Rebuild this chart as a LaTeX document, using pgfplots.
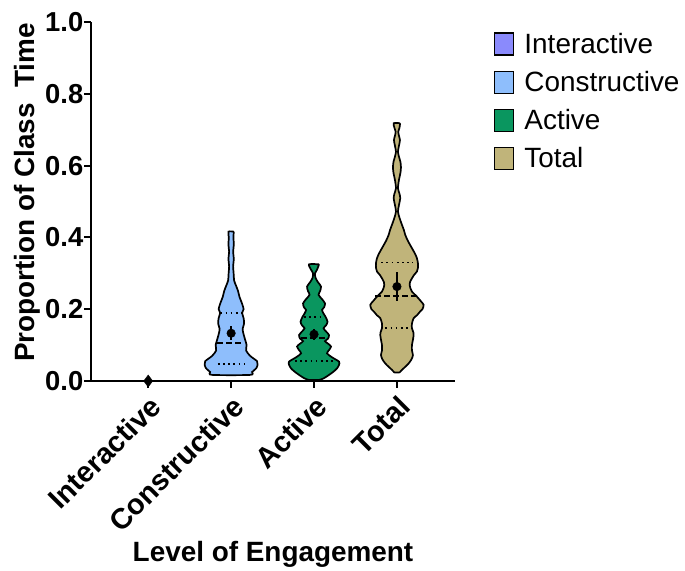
\documentclass[border=0pt]{standalone}
\usepackage{pgfplots}
\pgfplotsset{compat=1.18}
\usepackage{fontspec}
\setmainfont{Liberation Sans}
\definecolor{cInter}{RGB}{138,138,252}
\definecolor{cCons}{RGB}{142,190,252}
\definecolor{cAct}{RGB}{10,150,95}
\definecolor{cTot}{RGB}{192,180,122}
\begin{document}
\begin{tikzpicture}
\begin{axis}[
  scale only axis, width=364bp, height=359bp,
  xmin=-0.69, xmax=3.70, ymin=0, ymax=1,
  axis x line*=bottom, axis y line*=left,
  axis line style={line width=2.2bp, -},
  clip=false,
  xtick={0,1,2,3},
  xticklabels={Interactive,Constructive,Active,Total},
  ytick={0,0.2,0.4,0.6,0.8,1.0},
  yticklabel style={/pgf/number format/fixed, /pgf/number format/fixed zerofill, /pgf/number format/precision=1, /pgf/number format/assume math mode=true, inner sep=0.5bp},
  tick align=outside, major tick length=7bp,
  tick style={line width=2bp, black},
  ticklabel style={font=\fontsize{27.5}{31}\selectfont\bfseries},
  x tick label style={rotate=45, anchor=north east, inner sep=4bp, font=\fontsize{29}{33}\selectfont\bfseries},
  xlabel={Level of Engagement},
  ylabel={Proportion of Class\ \ Time},
  label style={font=\fontsize{28}{32}\selectfont\bfseries},
  ylabel style={at={(axis description cs:0,0.525)}, anchor=center, yshift=64bp},
  xlabel style={yshift=2bp},
  legend style={at={(rel axis cs:1,1)}, anchor=north west, xshift=36bp, yshift=-7bp,
    draw=none, fill=none, font=\fontsize{28}{32}\selectfont, row sep=12.5bp,
    /tikz/every odd column/.append style={column sep=8bp}},
  legend cell align=left,
  legend image code/.code={\draw[#1, line width=1.3bp] (0bp,-11bp) rectangle (19bp,11bp);},
]
\addlegendimage{fill=cInter, draw=black}
\addlegendentry{Interactive}
\addlegendimage{fill=cCons, draw=black}
\addlegendentry{Constructive}
\addlegendimage{fill=cAct, draw=black}
\addlegendentry{Active}
\addlegendimage{fill=cTot, draw=black}
\addlegendentry{Total}

% Constructive violin (h = half width in px, 83 px per category)
\addplot[forget plot, fill=cCons, draw=black, line width=1.7bp, smooth, tension=0.45]
 table[x expr=1+\thisrow{h}/83, y=v] {
h v
2.7 0.416
2.3 0.40
2.7 0.38
2.0 0.36
2.7 0.34
2.0 0.32
2.5 0.30
3.0 0.28
5 0.265
7 0.25
8.3 0.235
11 0.215
12.5 0.20
11 0.19
12.5 0.175
13 0.16
11.5 0.145
12.5 0.13
14 0.115
15.5 0.10
15 0.085
19 0.07
26 0.055
26.5 0.045
25 0.035
21 0.025
19 0.017
-19 0.017
-21 0.025
-25 0.035
-26.5 0.045
-26 0.055
-19 0.07
-15 0.085
-15.5 0.10
-14 0.115
-12.5 0.13
-11.5 0.145
-13 0.16
-12.5 0.175
-11 0.19
-12.5 0.20
-11 0.215
-8.3 0.235
-7 0.25
-5 0.265
-3.0 0.28
-2.5 0.30
-2.0 0.32
-2.7 0.34
-2.0 0.36
-2.7 0.38
-2.3 0.40
-2.7 0.416
2.7 0.416
};

% Active violin
\addplot[forget plot, fill=cAct, draw=black, line width=1.7bp, smooth, tension=0.45]
 table[x expr=2+\thisrow{h}/83, y=v] {
h v
5 0.325
3 0.31
1 0.30
1.5 0.287
4 0.275
7 0.263
6 0.25
4.5 0.24
8 0.228
11 0.216
10 0.205
8 0.198
9.5 0.188
11.5 0.179
13.5 0.165
12 0.155
9.5 0.147
12 0.138
15 0.128
14 0.118
11 0.111
14 0.104
17 0.096
15 0.086
13 0.077
18 0.066
25 0.054
25 0.045
23 0.035
19 0.025
15 0.017
10 0.008
5 0.003
-5 0.003
-10 0.008
-15 0.017
-19 0.025
-23 0.035
-25 0.045
-25 0.054
-18 0.066
-13 0.077
-15 0.086
-17 0.096
-14 0.104
-11 0.111
-14 0.118
-15 0.128
-12 0.138
-9.5 0.147
-12 0.155
-13.5 0.165
-11.5 0.179
-9.5 0.188
-8 0.198
-10 0.205
-11 0.216
-8 0.228
-4.5 0.24
-6 0.25
-7 0.263
-4 0.275
-1.5 0.287
-1 0.30
-3 0.31
-5 0.325
5 0.325
};

% Total violin
\addplot[forget plot, fill=cTot, draw=black, line width=1.7bp, smooth, tension=0.45]
 table[x expr=3+\thisrow{h}/83, y=v] {
h v
3.2 0.718
2.5 0.705
1.3 0.694
2 0.683
3 0.671
2 0.655
1 0.639
2 0.625
3.5 0.610
4 0.595
3.5 0.58
2 0.56
1 0.537
2.5 0.522
3.3 0.509
2 0.49
1 0.472
2.5 0.455
5 0.435
7 0.42
8.3 0.407
11 0.39
15 0.37
18 0.355
20 0.342
21 0.328
21 0.315
20 0.305
17 0.295
15 0.286
13 0.275
12.7 0.267
13.5 0.258
15 0.249
20 0.235
24 0.222
26.7 0.212
25.5 0.2
23 0.193
20 0.183
16.7 0.175
15 0.16
15 0.147
16.5 0.135
16.7 0.128
16 0.115
15 0.1
15 0.085
16 0.072
14.5 0.06
11.7 0.049
8.5 0.04
5 0.031
2.7 0.024
-2.7 0.024
-5 0.031
-8.5 0.04
-11.7 0.049
-14.5 0.06
-16 0.072
-15 0.085
-15 0.1
-16 0.115
-16.7 0.128
-16.5 0.135
-15 0.147
-15 0.16
-16.7 0.175
-20 0.183
-23 0.193
-25.5 0.2
-26.7 0.212
-24 0.222
-20 0.235
-15 0.249
-13.5 0.258
-12.7 0.267
-13 0.275
-15 0.286
-17 0.295
-20 0.305
-21 0.315
-21 0.328
-20 0.342
-18 0.355
-15 0.37
-11 0.39
-8.3 0.407
-7 0.42
-5 0.435
-2.5 0.455
-1 0.472
-2 0.49
-3.3 0.509
-2.5 0.522
-1 0.537
-2 0.56
-3.5 0.58
-4 0.595
-3.5 0.610
-2 0.625
-1 0.639
-2 0.655
-3 0.671
-2 0.683
-1.3 0.694
-2.5 0.705
-3.2 0.718
3.2 0.718
};

% quartile (dotted) and median (dashed) lines
\pgfplotsset{qline/.style={forget plot, black, line width=1.7bp, dash pattern=on 1.7bp off 3.5bp}, mline/.style={forget plot, black, line width=1.9bp, dash pattern=on 6bp off 3bp}}
\addplot[qline] coordinates {(0.87,0.19) (1.13,0.19)};
\addplot[mline] coordinates {(0.83,0.107) (1.15,0.107)};
\addplot[qline] coordinates {(0.84,0.047) (1.16,0.047)};
\addplot[qline] coordinates {(1.88,0.178) (2.12,0.178)};
\addplot[mline] coordinates {(1.84,0.12) (2.16,0.12)};
\addplot[qline] coordinates {(1.77,0.056) (2.23,0.056)};
\addplot[qline] coordinates {(2.81,0.33) (3.19,0.33)};
\addplot[mline] coordinates {(2.74,0.238) (3.26,0.238)};
\addplot[qline] coordinates {(2.86,0.148) (3.14,0.148)};

% means with error bars
\addplot[forget plot, black, only marks, mark=*, mark size=4.3bp,
  error bars/.cd, y dir=both, y explicit, error mark=none,
  error bar style={line width=2bp, black}]
 coordinates {
 (1,0.133) +- (0,0.02)
 (2,0.13) +- (0,0.016)
 (3,0.263) +- (0,0.04)
};
\addplot[forget plot, black, only marks, mark=diamond*, mark size=6bp,
  error bars/.cd, y dir=both, y explicit, error mark=none,
  error bar style={line width=2bp, black}]
 coordinates {(0,0) +- (0,0.012)};
\end{axis}
\path ([xshift=-91bp, yshift=22bp]current axis.north west) rectangle ([xshift=230bp, yshift=-188bp]current axis.south east);
\end{tikzpicture}
\end{document}
